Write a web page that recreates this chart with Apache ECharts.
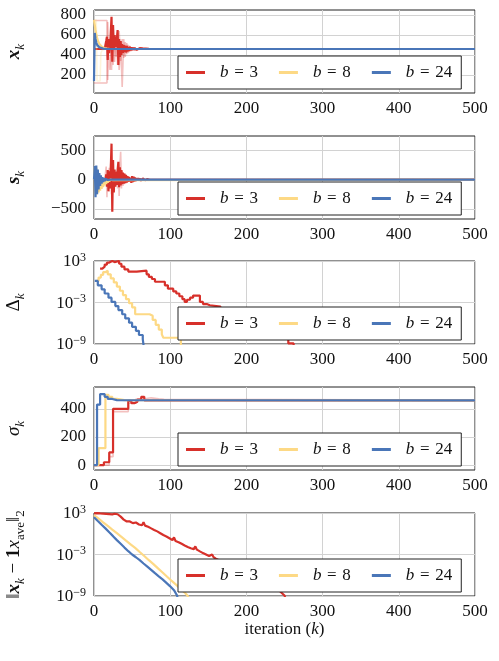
<!DOCTYPE html>
<html>
<head>
<meta charset="utf-8">
<script src="https://cdn.jsdelivr.net/npm/echarts@6.0.0/dist/echarts.min.js"></script>
<style>
  html, body { margin: 0; padding: 0; background: #fff; }
  #chart { width: 499px; height: 661px; }
</style>
</head>
<body>
<div id="chart"></div>
<script>
const legendNames = ['b = 3', 'b = 8', 'b = 24']

// panel 1: x_k
const xkRedFadedA = [[0,745],[17,745],[18,150],[19,400],[21,250],[23,650],[25,300],[27,560],[29,380],[31,620],[33,250],[35,520],[37,80],[39,560],[41,380],[43,520],[45,420],[47,490],[49,440],[51,475],[53,450],[55,466],[58,458],[62,461],[66,460],[500,460]]
const xkRedFadedB = [[0,120],[17,120],[18,730],[19,500],[21,550],[23,250],[25,700],[27,330],[29,600],[31,300],[33,640],[35,340],[37,560],[39,370],[41,530],[43,410],[45,500],[47,440],[50,475],[53,452],[56,463],[60,459],[64,460],[500,460]]
const xkRed = [[0,460],[14,460],[15,470],[16,540],[17,583],[18,350],[19,560],[20,420],[21,480],[22,620],[23,783],[24,333],[25,700],[26,450],[27,600],[28,520],[29,480],[30,560],[31,650],[32,300],[33,560],[34,380],[35,540],[36,400],[37,510],[38,420],[39,500],[40,430],[41,495],[42,425],[43,490],[44,435],[45,480],[46,440],[47,482],[48,445],[49,478],[50,448],[51,474],[52,450],[53,472],[54,452],[55,468],[56,452],[57,466],[58,455],[60,468],[62,452],[64,466],[66,454],[68,465],[70,456],[72,462],[74,460],[500,460]]
const xkYellowFaded = [[0,750],[3,750],[4,140],[8,140],[9,420],[11,450],[14,458],[18,460],[500,460]]
const xkYellow = [[0,750],[1,700],[2,650],[3,610],[4,575],[5,545],[6,525],[7,510],[8,498],[10,485],[12,475],[14,468],[17,464],[20,461],[25,460],[500,460]]
const xkBlueFaded = [[0,560],[2,500],[4,480],[7,468],[11,462],[16,460],[500,460]]
const xkBlue = [[0,140],[1,620],[2,560],[3,525],[4,503],[5,490],[7,477],[9,469],[12,464],[16,461],[22,460],[500,460]]

// panel 2: s_k
const skRedFaded = [[0,0],[14,0],[15,100],[16,222],[17,-300],[18,150],[19,-120],[20,200],[21,-150],[22,280],[23,-250],[24,200],[25,-160],[26,150],[27,-120],[28,110],[29,-100],[30,150],[31,-150],[32,200],[33,-280],[34,250],[35,472],[36,-150],[37,150],[38,-110],[39,100],[40,-80],[41,80],[42,-60],[43,60],[44,-45],[45,40],[46,-30],[47,30],[48,-20],[49,20],[50,-12],[51,10],[52,0],[500,0]]
const skRed = [[0,0],[13,0],[14,20],[15,-40],[16,90],[17,-120],[18,160],[19,-200],[20,140],[21,-150],[22,180],[23,610],[24,-545],[25,330],[26,-220],[27,170],[28,-120],[29,130],[30,-90],[31,160],[32,300],[33,-130],[34,210],[35,-100],[36,160],[37,-80],[38,120],[39,-70],[40,100],[41,-60],[42,80],[43,-50],[44,60],[45,-40],[46,45],[47,-35],[48,30],[49,-55],[50,60],[51,-45],[52,50],[53,-35],[54,35],[55,-25],[56,20],[57,-20],[58,25],[59,-20],[60,20],[61,-18],[62,15],[63,-15],[64,18],[65,-12],[66,12],[67,-10],[68,10],[69,-8],[70,8],[71,-6],[72,5],[73,-4],[74,3],[75,0],[500,0]]
const skYellow = [[0,0],[1,222],[2,-240],[3,200],[4,-250],[5,110],[6,-220],[7,60],[8,-190],[9,30],[10,-160],[11,10],[12,-130],[13,0],[14,-100],[15,-5],[16,-75],[17,-3],[18,-55],[19,0],[20,-35],[21,0],[22,-18],[23,0],[24,-8],[25,0],[500,0]]
const skBlue = [[0,0],[1,230],[2,-300],[3,240],[4,-250],[5,170],[6,-170],[7,110],[8,-110],[9,70],[10,-70],[11,40],[12,-40],[13,25],[14,-25],[15,14],[16,-14],[17,8],[18,-8],[19,4],[20,-4],[21,0],[500,0]]

// panel 3: Delta_k (log)
const dRed = [[8,80],[11,150],[14,300],[17,600],[20,1000],[24,700],[27,1000],[33,400],[36,150],[40,60],[45,30],[56,40],[69,12],[72,5],[76,2.5],[80,1],[93,0.3],[97,0.1],[104,0.04],[108,0.02],[112,0.008],[116,0.003],[119,0.0012],[122,0.0025],[126,0.005],[130,0.01],[139,0.0012],[143,0.0006],[148,0.0004],[152,0.00025],[166,0.0001],[180,2e-5],[195,4e-6],[210,8e-7],[225,1.5e-7],[240,2e-8],[255,1.2e-9],[262,1e-10]]
const dYellow = [[3,1.3],[6,4],[9,10],[12,25],[15,40],[18,12],[22,3],[26,0.8],[30,0.2],[34,0.05],[38,0.012],[42,0.003],[46,8e-4],[50,2e-4],[54,2e-5],[73,1.2e-5],[77,3e-6],[81,6e-7],[85,1.2e-7],[89,2.5e-8],[91,8e-9],[114,1e-10]]
const dBlue = [[1,1.3],[5,0.3],[10,0.08],[14,0.02],[19,5e-3],[23,1.2e-3],[28,3e-4],[32,8e-5],[37,2e-5],[41,5e-6],[46,1.2e-6],[50,3e-7],[55,8e-8],[59,2e-8],[64,5e-9],[66,1e-10]]

// panel 4: sigma_k
const sgRedFaded = [[0,0],[14,0],[20,60],[25,380],[45,440],[55,470],[65,478],[75,472],[85,468],[92,462],[500,460]]
const sgRed = [[0,0],[13,20],[20,90],[25,400],[45,457],[49,440],[53,450],[57,465],[62,485],[66,460],[500,460]]
const sgYellow = [[0,0],[6,120],[15,500],[19,485],[24,470],[30,462],[40,460],[500,460]]
const sgBlue = [[0,0],[4,430],[8,505],[14,485],[18,470],[24,462],[30,460],[500,460]]

// panel 5: ||x_k - 1 x_ave||_2 (log)
const nRed = [[0,900],[2,820],[4,950],[6,780],[8,880],[10,700],[12,820],[14,640],[16,760],[18,600],[20,700],[22,540],[24,640],[26,560],[27,780],[29,500],[31,660],[33,450],[35,300],[37,180],[39,110],[41,80],[43,60],[45,45],[47,60],[49,38],[51,34],[53,28],[55,42],[57,24],[59,22],[61,30],[63,17],[65,45],[67,15],[69,13],[71,10],[73,8],[75,6],[77,4.5],[79,3.6],[81,3],[83,2.2],[85,1.7],[87,1.2],[89,1],[91,0.65],[93,0.55],[95,0.4],[97,0.32],[99,0.22],[101,0.18],[103,0.12],[105,0.3],[107,0.09],[109,0.08],[111,0.06],[113,0.045],[115,0.035],[117,0.028],[119,0.02],[121,0.015],[123,0.012],[125,0.009],[127,0.008],[129,0.0065],[131,0.006],[133,0.015],[135,0.005],[137,0.0035],[139,0.0028],[141,0.002],[143,0.0016],[145,0.0012],[147,0.001],[149,0.0008],[151,0.0006],[153,0.0005],[155,0.001],[157,0.0004],[160,0.00025],[163,0.00018],[166,0.00013],[170,7e-5],[180,2e-5],[195,4e-6],[210,7e-7],[225,1e-7],[240,1.2e-8],[250,1.2e-9],[253,1e-10]]
const nYellow = [[0,500],[6,150],[12,45],[18,14],[24,4],[30,1.2],[36,0.35],[42,0.1],[48,0.03],[54,0.009],[60,2.3e-3],[66,6e-4],[72,1.5e-4],[78,4e-5],[84,1e-5],[90,2.5e-6],[96,6e-7],[102,1.5e-7],[108,4e-8],[114,1e-8],[120,2.5e-9],[123,1e-9],[125,1e-10]]
const nBlue = [[0,250],[5,70],[10,20],[15,6],[20,1.6],[25,0.45],[30,0.12],[35,0.035],[40,0.01],[45,3e-3],[50,1e-3],[55,4e-4],[60,1.5e-4],[65,5e-5],[70,1.8e-5],[75,6e-6],[80,2e-6],[85,7e-7],[90,2.5e-7],[95,8e-8],[100,2.5e-8],[105,7e-9],[109,1.2e-9],[111,1e-10]]

const yTicks = [[200, 400, 600, 800], [-500, 0, 500], [1e-9, 1e-3, 1e3], [0, 200, 400], [1e-9, 1e-3, 1e3]]
const yRanges = [[20, 850], [-670, 740], [1e-9, 1e3], [-35, 555], [1e-9, 1e3]]
const isLog = [false, false, true, false, true]

const FONT = '"Liberation Serif", "DejaVu Serif", serif'
const RED = '#d7302a'
const YELLOW = '#fdd985'
const BLUE = '#4a76b8'
const INK = '#111'
const panelTops = [10, 136, 261, 387, 513]

const nameRich = {
  m: { fontFamily: FONT, fontSize: 19, lineHeight: 26, color: INK },
  i: { fontFamily: FONT, fontSize: 19, lineHeight: 26, fontStyle: 'italic', color: INK },
  b: { fontFamily: FONT, fontSize: 19, lineHeight: 26, fontWeight: 'bold', color: INK },
  bi: { fontFamily: FONT, fontSize: 19, lineHeight: 26, fontWeight: 'bold', fontStyle: 'italic', color: INK },
  sub: { fontFamily: FONT, fontSize: 13, lineHeight: 14, fontStyle: 'italic', verticalAlign: 'bottom', color: INK },
  subr: { fontFamily: FONT, fontSize: 13, lineHeight: 14, verticalAlign: 'bottom', color: INK }
}

const yNames = [
  '{bi|x}{sub|k}',
  '{bi|s}{sub|k}',
  '{m|Δ}{sub|k}',
  '{i|σ}{sub|k}',
  '{m|‖}{bi|x}{sub|k}{m| − }{b|1}{i|x}{subr|ave}{m|‖}{subr|2}'
]

const labelRich = {
  n: { fontFamily: FONT, fontSize: 17, lineHeight: 19, verticalAlign: 'bottom', color: INK },
  sup: { fontFamily: FONT, fontSize: 12, lineHeight: 11, verticalAlign: 'top', color: INK }
}

const logFormatter = v => {
  const e = Math.round(Math.log10(v))
  return '{n|10}{sup|' + (e < 0 ? '−' + (-e) : e) + '}'
}
const linFormatter = v => String(v).replace('-', '−')

const chart = echarts.init(document.getElementById('chart'))

const grids = panelTops.map(t => ({
  left: 94, top: t, width: 381, height: 83,
  show: true, borderColor: '#222', borderWidth: 1,
  containLabel: false, outerBoundsMode: 'none'
}))

const xAxes = panelTops.map((t, i) => ({
  gridIndex: i, type: 'value', min: 0, max: 500, interval: 100,
  axisLine: { show: false }, axisTick: { show: false },
  axisLabel: { fontFamily: FONT, fontSize: 17, color: INK, margin: 7 },
  splitLine: { lineStyle: { color: '#d2d2d2', width: 1 } },
  name: i === 4 ? 'iteration ({i|k})' : '',
  nameLocation: 'middle', nameGap: 24,
  nameTextStyle: { fontFamily: FONT, fontSize: 17, color: INK, rich: { i: { fontFamily: FONT, fontSize: 17, fontStyle: 'italic', color: INK } } }
}))

const yAxes = panelTops.map((t, i) => ({
  gridIndex: i, type: isLog[i] ? 'log' : 'value', logBase: 10,
  min: yRanges[i][0], max: yRanges[i][1],
  axisLine: { show: false },
  axisTick: { show: false, customValues: yTicks[i] },
  axisLabel: {
    customValues: yTicks[i], margin: 8,
    fontFamily: FONT, fontSize: 17, color: INK,
    formatter: isLog[i] ? logFormatter : linFormatter,
    rich: labelRich
  },
  splitLine: { lineStyle: { color: '#d2d2d2', width: 1 } },
  name: yNames[i], nameLocation: 'middle', nameRotate: 90, nameGap: 67,
  nameTextStyle: { rich: nameRich }
}))

const legends = panelTops.map(t => ({
  data: legendNames, top: t + 46, left: 178, orient: 'horizontal',
  backgroundColor: '#fff', borderColor: '#222', borderWidth: 1, borderRadius: 0,
  padding: [8, 9, 8, 8], itemGap: 21, itemWidth: 19, itemHeight: 3, icon: 'rect',
  selectedMode: false,
  formatter: n => '{i|b}' + n.slice(1).replace(/ /g, '\u2004'),
  textStyle: {
    fontFamily: FONT, fontSize: 17, color: INK, padding: [0, 0, 0, 10],
    rich: { i: { fontFamily: FONT, fontSize: 17, fontStyle: 'italic', color: INK } }
  }
}))

function line(name, data, idx, color, extra) {
  return Object.assign({
    type: 'line', name, data, xAxisIndex: idx, yAxisIndex: idx,
    symbol: 'none', silent: true, clip: true,
    lineStyle: { color, width: 2.2 }, itemStyle: { color }
  }, extra || {})
}
const faded = color => ({ lineStyle: { color, width: 1.6, opacity: 0.3 } })
const stepped = { step: 'end' }

const series = [
  line('b = 3 others', xkRedFadedA, 0, RED, faded(RED)),
  line('b = 3 others', xkRedFadedB, 0, RED, faded(RED)),
  line('b = 3', xkRed, 0, RED),
  line('b = 8 others', xkYellowFaded, 0, YELLOW, faded(YELLOW)),
  line('b = 8', xkYellow, 0, YELLOW),
  line('b = 24 others', xkBlueFaded, 0, BLUE, faded(BLUE)),
  line('b = 24', xkBlue, 0, BLUE),

  line('b = 3 others', skRedFaded, 1, RED, faded(RED)),
  line('b = 3', skRed, 1, RED),
  line('b = 8', skYellow, 1, YELLOW),
  line('b = 24', skBlue, 1, BLUE),

  line('b = 3', dRed, 2, RED, stepped),
  line('b = 8', dYellow, 2, YELLOW, stepped),
  line('b = 24', dBlue, 2, BLUE, stepped),

  line('b = 3 others', sgRedFaded, 3, RED, Object.assign({ step: 'end' }, faded(RED))),
  line('b = 3', sgRed, 3, RED, stepped),
  line('b = 8', sgYellow, 3, YELLOW, stepped),
  line('b = 24', sgBlue, 3, BLUE, stepped),

  line('b = 3', nRed, 4, RED),
  line('b = 8', nYellow, 4, YELLOW),
  line('b = 24', nBlue, 4, BLUE)
]

chart.setOption({
  animation: false,
  grid: grids,
  xAxis: xAxes,
  yAxis: yAxes,
  legend: legends,
  series
})
</script>
</body>
</html>
